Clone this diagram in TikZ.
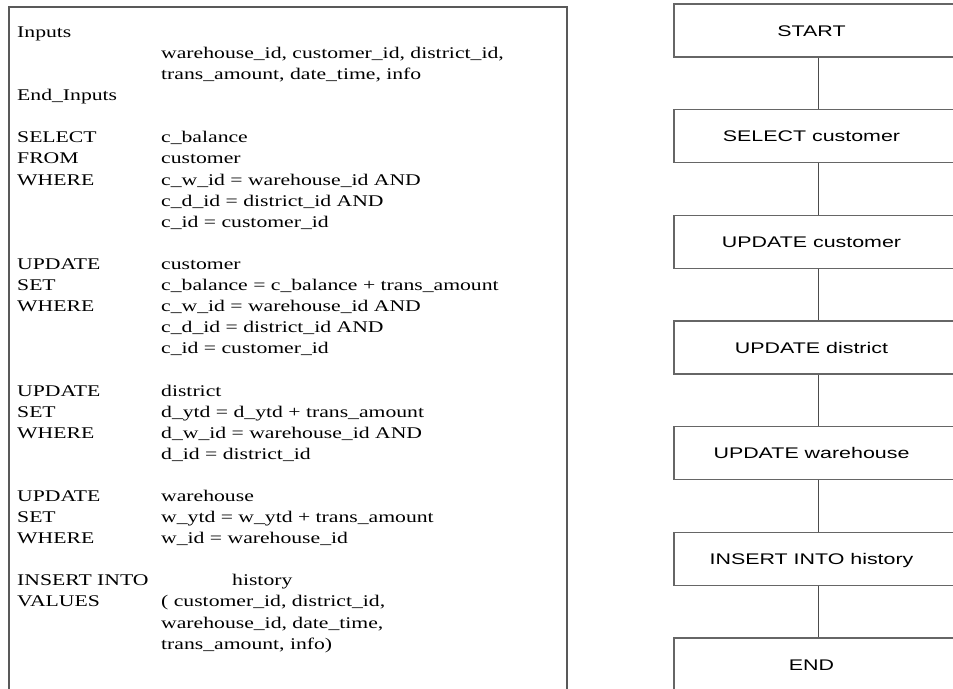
\documentclass[tikz,border=0pt]{standalone}
\usepackage{fontspec}
\newfontfamily\serifwide[FakeStretch=1.33]{Liberation Serif}
\newfontfamily\sanswide[FakeStretch=1.39]{Liberation Sans}
\definecolor{framegray}{gray}{0.35}
\definecolor{boxgray}{gray}{0.40}
\definecolor{conngray}{gray}{0.30}
\begin{document}
\begin{tikzpicture}[x=1pt,y=-1pt,
  stepbox/.style={draw=boxgray, line width=1.3pt, minimum width=288pt, minimum height=53pt,
    inner sep=0pt, text height=11pt, text depth=0pt,
    font=\sanswide\fontsize{15.4}{18}\selectfont,
    execute at end node={\hspace*{13pt}}},
  conn/.style={draw=conngray, line width=1pt},
  codetext/.style={anchor=base west, inner sep=0pt,
    font=\serifwide\fontsize{16.3}{21.1}\selectfont}]
\clip (0,0) rectangle (953,688);
% left frame (open at bottom)
\draw[framegray, line width=1.6pt] (9,700) -- (9,7) -- (567,7) -- (567,700);
\node[codetext] (code) at (17,37.3) {%
\begin{tabular}[t]{@{}p{144pt}@{}l@{}}
Inputs & \\
 & warehouse\_id, customer\_id, district\_id, \\
 & trans\_amount, date\_time, info \\
End\_Inputs & \\
 & \\
SELECT & c\_balance \\
FROM & customer \\
WHERE & c\_w\_id = warehouse\_id AND \\
 & c\_d\_id = district\_id AND \\
 & c\_id = customer\_id \\
 & \\
UPDATE & customer \\
SET & c\_balance = c\_balance + trans\_amount \\
WHERE & c\_w\_id = warehouse\_id AND \\
 & c\_d\_id = district\_id AND \\
 & c\_id = customer\_id \\
 & \\
UPDATE & district \\
SET & d\_ytd = d\_ytd + trans\_amount \\
WHERE & d\_w\_id = warehouse\_id AND \\
 & d\_id = district\_id \\
 & \\
UPDATE & warehouse \\
SET & w\_ytd = w\_ytd + trans\_amount \\
WHERE & w\_id = warehouse\_id \\
 & \\
INSERT INTO & \hspace*{71pt}history \\
VALUES & ( customer\_id, district\_id, \\
 & warehouse\_id, date\_time, \\
 & trans\_amount, info)
\end{tabular}};
% flow chart
\node[stepbox] (start) at (818,30.5) {START};
\node[stepbox] (selcust) at (818,136.2) {SELECT customer};
\node[stepbox] (updcust) at (818,241.8) {UPDATE customer};
\node[stepbox] (upddist) at (818,347.5) {UPDATE district};
\node[stepbox] (updware) at (818,453.2) {UPDATE warehouse};
\node[stepbox] (inshist) at (818,558.9) {INSERT INTO history};
\node[stepbox] (end) at (818,664.5) {END};
\draw[conn] (start.south) -- (selcust.north);
\draw[conn] (selcust.south) -- (updcust.north);
\draw[conn] (updcust.south) -- (upddist.north);
\draw[conn] (upddist.south) -- (updware.north);
\draw[conn] (updware.south) -- (inshist.north);
\draw[conn] (inshist.south) -- (end.north);
\end{tikzpicture}
\end{document}
